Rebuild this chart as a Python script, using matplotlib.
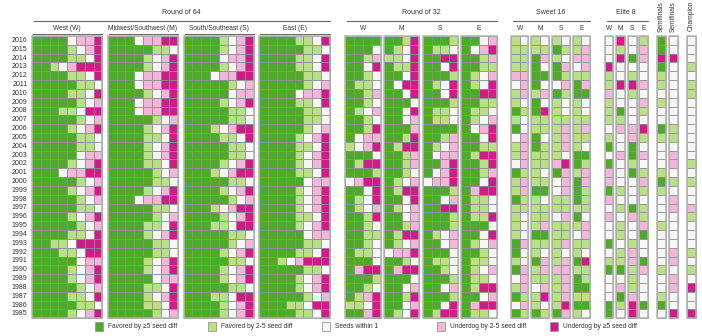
import matplotlib
matplotlib.use("Agg")
import matplotlib.pyplot as plt
from matplotlib.patches import Rectangle

plt.rcParams['font.family'] = ['Liberation Sans', 'DejaVu Sans']

# ---------------- data ----------------
years = list(range(2016, 1984, -1))

# codes: 0 favored >=5, 1 favored 2-5, 2 within 1, 3 underdog 2-5, 4 underdog >=5
r64_W = ["00002334", "00001234", "00001124", "00123444", "00001124", "00000112", "00001124", "00000123",
         "00011244", "00000123", "00001234", "00000112", "00000112", "00000233", "00001234", "00023344",
         "00000123", "00001234", "00000123", "00000112", "00001234", "00000123", "00001124", "00112444",
         "00011244", "00000233", "00001234", "00001234", "00000123", "00001124", "00000112", "00001234"]
r64_M = ["00023344", "00000112", "00001234", "00001234", "00023344", "00023344", "00001234", "00023344",
         "00023344", "00000123", "00001234", "00001124", "00001234", "00001234", "00001124", "00000123",
         "00000112", "00001234", "00023344", "00000112", "00000123", "00001124", "00001234", "00000112",
         "00000112", "00001234", "00001234", "00000233", "00001124", "00001234", "00001124", "00000123"]
r64_S = ["00001234", "00001234", "00002334", "00001234", "00023344", "00000123", "00000233", "00001234",
         "00000112", "00000112", "00012344", "00001124", "00000112", "00000112", "00001234", "00012344",
         "00000112", "00001234", "00000123", "00012344", "00001234", "00011244", "00000112", "00000123",
         "00001234", "00000112", "00001234", "00001234", "00000112", "00011244", "00001234", "00001234"]
r64_E = ["00001124", "00000112", "00001124", "00001124", "00000112", "00000123", "00002334", "00001124",
         "00000112", "00000112", "00000123", "00001234", "00001124", "00001234", "00001234", "00001124",
         "00000233", "00001234", "00001234", "00001234", "00001124", "00001234", "00000233", "00000112",
         "00001124", "00123444", "00000112", "00001234", "00001234", "00000123", "00011244", "00001124"]

r32_W = ["0000", "0002", "0013", "0024", "0012", "0112", "0013", "0012", "0123", "0012", "0014", "0233",
         "1234", "0002", "0144", "0001", "2344", "0024", "0124", "0123", "0014", "0012", "0011", "0012",
         "0112", "0002", "0344", "0001", "0012", "0134", "1124", "0034"]
r32_M = ["0014", "0124", "1124", "0114", "0024", "0244", "0024", "0002", "0024", "0023", "0003", "0014",
         "0144", "0013", "0013", "0012", "0123", "0144", "0024", "0123", "0023", "0013", "0144", "0123",
         "2334", "0012", "0344", "0002", "0023", "0014", "0023", "0124"]
r32_S = ["0001", "0112", "0044", "0024", "0001", "0124", "0024", "0001", "0112", "0112", "0000", "0013",
         "0123", "0233", "0034", "0234", "2334", "0001", "0023", "0044", "0001", "0001", "0123", "0023",
         "0002", "0112", "0012", "0001", "0023", "0001", "0024", "0144"]
r32_E = ["0023", "0234", "0013", "0011", "0123", "0124", "0044", "0011", "0112", "0123", "0234", "0024",
         "0011", "0144", "0014", "0013", "0024", "0344", "0112", "0112", "0114", "0002", "0024", "0123",
         "0012", "0112", "0123", "0112", "0144", "0023", "0344", "0112"]

s16_W = ["12", "11", "11", "11", "33", "23", "13", "12", "01", "12", "02", "23", "13", "13", "23", "01",
         "13", "13", "01", "11", "12", "12", "12", "03", "02", "12", "03", "23", "13", "01", "23", "01"]
s16_M = ["12", "11", "03", "02", "00", "02", "13", "02", "04", "11", "11", "02", "01", "11", "11", "12",
         "11", "00", "12", "11", "11", "13", "00", "11", "12", "03", "13", "11", "23", "14", "12", "01"]
s16_S = ["12", "01", "12", "03", "01", "23", "01", "12", "12", "11", "13", "13", "13", "12", "34", "03",
         "23", "23", "11", "11", "23", "11", "11", "13", "12", "13", "33", "13", "13", "13", "14", "03"]
s16_E = ["12", "13", "33", "23", "11", "03", "00", "12", "12", "11", "13", "11", "12", "00", "01", "13",
         "03", "01", "01", "11", "02", "13", "23", "11", "12", "04", "11", "01", "00", "11", "00", "12"]

# Elite 8: one code per region (W, M, S, E)
e8 = ["2421", "2123", "2403", "4222", "1212", "1443", "3212", "1223", "1021", "1122", "2334", "1231",
      "0202", "2303", "0212", "3201", "3223", "0121", "3222", "2101", "3231", "2123", "2120", "0212",
      "2132", "1130", "0013", "2212", "2312", "2032", "0140", "0242"]

semis = ["02", "02", "44", "02", "12", "12", "22", "12", "22", "22", "01", "11", "22", "23", "23", "12",
         "01", "12", "23", "23", "22", "12", "22", "22", "23", "23", "12", "23", "23", "12", "02", "24"]

champion = ["2", "2", "2", "1", "2", "1", "1", "2", "2", "2", "2", "2", "2", "2", "1", "2",
            "1", "2", "2", "3", "1", "2", "2", "2", "1", "2", "1", "2", "4", "2", "2", "4"]

legend_labels = ["Favored by \u22655 seed diff", "Favored by 2-5 seed diff", "Seeds within 1",
                 "Underdog by 2-5 seed diff", "Underdog by \u22655 seed diff"]
colors = ["#4dac26", "#b8e186", "#f7f7f7", "#f1b6da", "#d01c8b"]

round_titles = ["Round of 64", "Round of 32", "Sweet 16", "Elite 8"]
r64_regions = ["West (W)", "Midwest/Southwest (M)", "South/Southeast (S)", "East (E)"]
short_regions = ["W", "M", "S", "E"]

# ---------------- layout ----------------
W_PX, H_PX = 702, 336
CELL = 8.8
TOP = 36.0
ROWH = 8.82
R64_X = [32.0, 107.8, 183.6, 259.4]
R32_X = [345.3, 384.0, 422.7, 461.4]
S16_X = [510.8, 531.4, 552.0, 572.6]
E8_X = [604.5, 616.1, 627.7, 639.3]
SF_X = [657.2, 668.8]
CH_X = [686.8]

fig = plt.figure(figsize=(W_PX / 100, H_PX / 100), dpi=100)
ax = fig.add_axes([0, 0, 1, 1])
ax.set_xlim(0, W_PX)
ax.set_ylim(H_PX, 0)
ax.axis("off")

TXT = "#333333"
LINE = "#666666"


def draw_block(x0, rows):
    ncol = len(rows[0])
    for i, codes in enumerate(rows):
        y = TOP + i * ROWH
        for j, ch in enumerate(codes):
            ax.add_patch(Rectangle((x0 + j * CELL, y), CELL, ROWH, facecolor=colors[int(ch)],
                                   edgecolor="#8c8c8c", linewidth=0.55))
    ax.add_patch(Rectangle((x0, TOP), ncol * CELL, len(rows) * ROWH, facecolor="none",
                           edgecolor="#b3b3b3", linewidth=1.1))


for x0, rows in zip(R64_X, [r64_W, r64_M, r64_S, r64_E]):
    draw_block(x0, rows)
for x0, rows in zip(R32_X, [r32_W, r32_M, r32_S, r32_E]):
    draw_block(x0, rows)
for x0, rows in zip(S16_X, [s16_W, s16_M, s16_S, s16_E]):
    draw_block(x0, rows)
for k, x0 in enumerate(E8_X):
    draw_block(x0, [r[k] for r in e8])
for k, x0 in enumerate(SF_X):
    draw_block(x0, [r[k] for r in semis])
draw_block(CH_X[0], champion)

# year labels
for i, yr in enumerate(years):
    ax.text(27.5, TOP + (i + 0.5) * ROWH, str(yr), ha="right", va="center", fontsize=5, color=TXT)

# round titles and lines
groups = [(R64_X, 8), (R32_X, 4), (S16_X, 2), (E8_X, 1)]
for title, (xs, n) in zip(round_titles, groups):
    x_start = xs[0]
    x_end = xs[-1] + n * CELL
    ax.text((x_start + x_end) / 2, 12.5, title, ha="center", va="center", fontsize=5, color=TXT)
    ax.plot([x_start + 2, x_end], [20.7, 20.7], color=LINE, linewidth=0.8)

for name, x0 in zip(r64_regions, R64_X):
    ax.text(x0 + 4 * CELL, 29.0, name, ha="center", va="center", fontsize=4.8, color=TXT)
    ax.plot([x0 + 1, x0 + 8 * CELL], [33.6, 33.6], color=LINE, linewidth=0.7)

for xs, n in [(R32_X, 4), (S16_X, 2), (E8_X, 1)]:
    for name, x0 in zip(short_regions, xs):
        ax.text(x0 + n * CELL / 2, 29.0, name, ha="center", va="center", fontsize=4.8, color=TXT)

for x0 in SF_X:
    ax.text(x0 + CELL / 2, 1.0, "Semifinals", ha="center", va="top", rotation=90, fontsize=4.8, color=TXT)
ax.text(CH_X[0] + CELL / 2, 1.0, "Champion", ha="center", va="top", rotation=90, fontsize=4.8, color=TXT)

# legend
LEG_X = [94.5, 208.0, 322.0, 436.5, 550.0]
for lx, lab, c in zip(LEG_X, legend_labels, colors):
    ax.add_patch(Rectangle((lx, 322.0), 8.0, 8.5, facecolor=c, edgecolor="#999999", linewidth=0.6))
    ax.text(lx + 13.0, 326.5, lab, ha="left", va="center", fontsize=4.8, color=TXT)

fig.savefig("out.png", dpi=100)
